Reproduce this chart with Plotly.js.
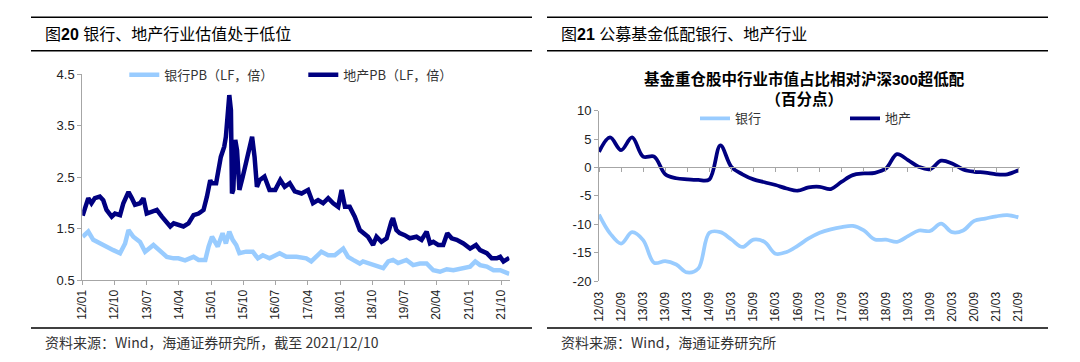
<!DOCTYPE html>
<html>
<head>
<meta charset="utf-8">
<script src="https://cdn.plot.ly/plotly-3.0.1.min.js"></script>
<style>
  html, body { margin: 0; padding: 0; background: #ffffff; }
  #chart { width: 1080px; height: 362px; }
</style>
</head>
<body>
<div id="chart"></div>
<script>
// ---------- Left chart: PB (LF) ----------
const bankDates = [
  "2012-01-04","2012-02-21","2012-04-03","2012-05-29","2012-07-25","2012-09-21","2012-11-17","2012-12-30",
  "2013-01-28","2013-03-10","2013-05-06","2013-06-18","2013-08-28","2013-10-24","2013-12-20",
  "2014-02-16","2014-03-28","2014-05-24","2014-08-04","2014-09-16","2014-11-12","2014-12-10",
  "2015-01-08","2015-02-26","2015-04-08","2015-05-06","2015-06-04","2015-07-03","2015-08-02","2015-08-29",
  "2015-10-25","2015-12-21","2016-02-02","2016-03-15","2016-05-11","2016-08-05","2016-10-01","2016-12-26",
  "2017-03-20","2017-05-01","2017-06-13","2017-07-26","2017-09-22","2017-11-17","2018-01-28","2018-03-10",
  "2018-04-22","2018-06-18","2018-07-15","2018-09-11","2018-11-07","2019-01-03","2019-02-15","2019-03-27",
  "2019-05-09","2019-07-19","2019-09-15","2019-11-11","2020-01-07","2020-03-04","2020-04-30","2020-06-26",
  "2020-08-22","2020-11-02","2021-01-11","2021-02-24","2021-04-06","2021-06-02","2021-07-29","2021-09-24",
  "2021-12-04","2021-12-10"
];
const bankPB = [
  1.34,1.44,1.28,1.21,1.15,1.08,1.02,1.21,
  1.47,1.34,1.24,1.05,1.18,1.05,0.95,
  0.92,0.92,0.88,0.95,0.89,0.89,1.15,
  1.34,1.15,1.41,1.21,1.44,1.28,1.18,1.02,
  1.05,1.05,0.92,0.98,0.92,1.02,0.95,0.95,
  0.92,0.86,0.95,1.05,0.98,0.98,1.11,0.95,
  0.89,0.82,0.86,0.82,0.79,0.73,0.86,0.89,
  0.83,0.89,0.79,0.82,0.82,0.69,0.66,0.71,
  0.69,0.73,0.76,0.86,0.79,0.76,0.69,0.69,
  0.63,0.62
];
const propDates = [
  "2012-01-04","2012-02-21","2012-03-19","2012-04-17","2012-05-29","2012-06-27","2012-07-25","2012-09-07",
  "2012-10-05","2012-11-17","2012-12-15","2013-01-28","2013-02-25","2013-03-24","2013-05-06","2013-06-04",
  "2013-07-02","2013-08-14","2013-09-26","2013-11-08","2013-12-20","2014-01-18","2014-02-16","2014-03-28",
  "2014-05-10","2014-06-22","2014-08-04","2014-09-16","2014-10-28","2014-11-26","2014-12-24","2015-01-05",
  "2015-02-12","2015-03-24","2015-04-22","2015-05-06","2015-05-20","2015-06-04","2015-06-18","2015-06-27",
  "2015-07-08","2015-07-25","2015-08-09","2015-08-29","2015-09-27","2015-11-09","2015-12-15","2016-01-05",
  "2016-01-25","2016-02-17","2016-03-29","2016-05-11","2016-06-29","2016-08-11","2016-09-17","2016-10-30",
  "2016-12-12","2017-02-08","2017-04-04","2017-05-16","2017-06-28","2017-08-10","2017-09-22","2017-11-04",
  "2017-12-16","2018-01-14","2018-02-12","2018-03-24","2018-05-06","2018-06-18","2018-07-15","2018-08-27",
  "2018-10-09","2018-11-07","2018-12-19","2019-02-01","2019-03-13","2019-03-27","2019-04-25","2019-05-23",
  "2019-07-05","2019-08-17","2019-10-13","2019-11-25","2020-01-07","2020-02-05","2020-03-04","2020-04-15",
  "2020-05-27","2020-07-01","2020-08-07","2020-09-19","2020-11-15","2021-01-11","2021-03-02","2021-04-06",
  "2021-06-02","2021-07-14","2021-08-26","2021-09-24","2021-10-22","2021-12-04","2021-12-10"
];
const propPB = [
  1.75,2.09,1.99,2.09,2.12,2.05,1.86,1.73,
  1.79,1.76,1.99,2.21,2.09,1.96,1.99,2.09,
  1.79,1.83,1.86,1.73,1.60,1.54,1.60,1.57,
  1.54,1.60,1.76,1.79,1.86,2.12,2.44,2.38,
  2.38,2.89,3.09,3.28,3.80,4.09,3.80,2.18,
  2.25,3.22,3.02,2.25,2.51,2.89,3.28,2.89,
  2.31,2.44,2.51,2.25,2.25,2.44,2.31,2.38,
  2.22,2.18,2.25,1.99,2.05,1.99,2.09,1.99,
  1.92,2.25,1.92,1.92,1.73,1.47,1.41,1.34,
  1.18,1.34,1.24,1.31,1.63,1.70,1.47,1.41,
  1.37,1.31,1.34,1.28,1.44,1.21,1.24,1.18,
  1.18,1.41,1.31,1.28,1.21,1.11,1.18,1.08,
  1.02,0.92,0.92,0.95,0.86,0.92,0.93
];
const leftYTicks = [0.5, 1.5, 2.5, 3.5, 4.5];

// ---------- Right chart: fund over/under-weight vs CSI 300 (pp) ----------
const quarters = [
  "12/03","12/06","12/09","12/12","13/03","13/06","13/09","13/12","14/03","14/06","14/09","14/12",
  "15/03","15/06","15/09","15/12","16/03","16/06","16/09","16/12","17/03","17/06","17/09","17/12",
  "18/03","18/06","18/09","18/12","19/03","19/06","19/09","19/12","20/03","20/06","20/09","20/12",
  "21/03","21/06","21/09"
];
const bankUnder = [
  -8.3,-11.6,-13.4,-11.4,-12.8,-16.8,-16.5,-17.1,-18.5,-17.8,-11.5,-11.4,
  -12.7,-14.0,-12.7,-13.1,-15.2,-14.9,-13.8,-12.5,-11.5,-10.9,-10.5,-10.3,
  -11.1,-12.7,-12.7,-13.1,-12.1,-11.1,-11.2,-9.9,-11.4,-11.1,-9.4,-9.0,
  -8.6,-8.4,-8.8
];
const propUnder = [
  2.76,5.3,3.06,5.3,1.9,1.9,-1.2,-1.9,-2.1,-2.2,-2.1,3.9,
  0.1,-1.2,-2.1,-2.6,-3.1,-3.7,-4.1,-3.5,-3.4,-3.8,-2.5,-1.35,
  -1.06,-0.94,-0.2,2.35,1.3,0.1,-0.3,1.2,0.7,-0.35,-0.76,-0.9,
  -1.2,-1.2,-0.5
];
const rightYTicks = [10, 5, 0, -5, -10, -15, -20];
const rightYTickText = ["10", "5", "0", "-5", "-10", "-15", "-20"];

// ---------- styling ----------
const LIGHT = "#99ccff";
const DARK = "#000080";
const AXIS = "#a6a6a6";
const FONT = 'Arial, "Liberation Sans", "Noto Sans CJK SC", sans-serif';
const CJK = '"Noto Sans CJK SC", Arial, "Liberation Sans", sans-serif';
const W = 1080, H = 362;
const px = v => v / W;
const py = v => 1 - v / H;

const rightXTicks = quarters.filter((q, i) => i % 2 === 0);

const traces = [
  { x: bankDates, y: bankPB, type: "scatter", mode: "lines", name: "银行PB（LF，倍）",
    line: { color: LIGHT, width: 4.5 }, xaxis: "x", yaxis: "y", legend: "legend", hoverinfo: "skip" },
  { x: propDates, y: propPB, type: "scatter", mode: "lines", name: "地产PB（LF，倍）",
    line: { color: DARK, width: 4.5 }, xaxis: "x", yaxis: "y", legend: "legend", hoverinfo: "skip" },
  { x: quarters, y: bankUnder, type: "scatter", mode: "lines", name: "银行",
    line: { color: LIGHT, width: 3.75, shape: "spline", smoothing: 1 }, xaxis: "x2", yaxis: "y2", legend: "legend2", hoverinfo: "skip" },
  { x: quarters, y: propUnder, type: "scatter", mode: "lines", name: "地产",
    line: { color: DARK, width: 3.75, shape: "spline", smoothing: 1 }, xaxis: "x2", yaxis: "y2", legend: "legend2", hoverinfo: "skip" },
  { x: quarters, y: quarters.map(() => null), type: "scatter", mode: "lines", showlegend: false,
    xaxis: "x3", yaxis: "y2", hoverinfo: "skip" }
];

const lineShape = (x0, x1, y) => ({
  type: "line", xref: "paper", yref: "paper", x0: px(x0), x1: px(x1), y0: py(y), y1: py(y),
  line: { color: "#000", width: 1.5 }
});

const ann = (text, x, y, size, opts) => Object.assign({
  text: text, x: px(x), y: py(y), xref: "paper", yref: "paper", showarrow: false,
  xanchor: "left", yanchor: "middle", font: { family: FONT, size: size, color: "#000" }
}, opts || {});

const zeroFrac = (0 - (-20)) / 30;
const y2dom = [py(281), py(110.7)];

const layout = {
  width: W, height: H,
  margin: { l: 0, r: 0, t: 0, b: 0 },
  paper_bgcolor: "#ffffff", plot_bgcolor: "rgba(0,0,0,0)",
  font: { family: FONT, size: 12, color: "#222" },
  showlegend: true,
  xaxis: {
    domain: [px(82.3), px(509.5)], anchor: "y", type: "date",
    range: ["2012-01-01", "2021-12-12"],
    tick0: "2012-01-01", dtick: "M9", tickformat: "%y/%m", tickangle: -90,
    showline: true, linecolor: AXIS, linewidth: 1,
    ticks: "outside", ticklen: 4, tickcolor: AXIS, tickwidth: 1,
    showgrid: false, zeroline: false, tickfont: { size: 12, color: "#222" }
  },
  yaxis: {
    domain: [py(280), py(74)], anchor: "x", range: [0.5, 4.5],
    tickmode: "array", tickvals: leftYTicks, tickformat: ".1f",
    showline: true, linecolor: AXIS, linewidth: 1,
    ticks: "outside", ticklen: 4, tickcolor: AXIS,
    showgrid: false, zeroline: false, tickfont: { size: 13, color: "#222" }
  },
  xaxis2: {
    domain: [px(599), px(1020)], anchor: "y2", type: "category",
    range: [0, 38.15], tickmode: "array", tickvals: rightXTicks, tickangle: -90,
    showline: false, ticks: "outside", ticklen: 5, tickcolor: "rgba(0,0,0,0)",
    showgrid: false, zeroline: false, tickfont: { size: 12, color: "#222" }
  },
  xaxis3: {
    overlaying: "x2", anchor: "free", position: y2dom[0] + zeroFrac * (y2dom[1] - y2dom[0]),
    type: "category", range: [0, 38.15], tickmode: "array", tickvals: rightXTicks,
    showline: true, linecolor: AXIS, linewidth: 1,
    ticks: "outside", ticklen: 4, tickcolor: AXIS,
    showticklabels: false, showgrid: false, zeroline: false
  },
  yaxis2: {
    domain: y2dom, anchor: "x2", range: [-20, 10],
    tickmode: "array", tickvals: rightYTicks, ticktext: rightYTickText,
    showline: true, linecolor: AXIS, linewidth: 1,
    ticks: "outside", ticklen: 4, tickcolor: AXIS,
    showgrid: false, zeroline: false, tickfont: { size: 13, color: "#222" }
  },
  legend: {
    orientation: "h", x: px(124.3), y: py(74.7), xanchor: "left", yanchor: "middle",
    bgcolor: "rgba(0,0,0,0)", font: { family: CJK, size: 13, color: "#333" },
    entrywidth: 134, entrywidthmode: "pixels", traceorder: "normal"
  },
  legend2: {
    orientation: "h", x: px(695), y: py(118.3), xanchor: "left", yanchor: "middle",
    bgcolor: "rgba(0,0,0,0)", font: { family: CJK, size: 13, color: "#333" },
    entrywidth: 105, entrywidthmode: "pixels", traceorder: "normal"
  },
  shapes: [
    lineShape(31, 532, 17.3), lineShape(31, 532, 50.7), lineShape(31, 532, 328),
    lineShape(547, 1048, 17.3), lineShape(547, 1048, 50.7), lineShape(547, 1048, 328)
  ],
  annotations: [
    ann("图<b>20</b> 银行、地产行业估值处于低位", 43, 34.3, 16),
    ann("图<b>21</b> 公募基金低配银行、地产行业", 559, 34.3, 16),
    ann("资料来源：Wind，海通证券研究所，截至 2021/12/10", 43, 342, 14, { font: { family: CJK, size: 14, color: "#333" } }),
    ann("资料来源：Wind，海通证券研究所", 559, 342, 14, { font: { family: CJK, size: 14, color: "#333" } }),
    ann("<b>基金重仓股中行业市值占比相对沪深300超低配</b><br><b>（百分点）</b>", 804, 89, 15.5,
        { xanchor: "center", align: "center" })
  ]
};

Plotly.newPlot("chart", traces, layout, { staticPlot: true, displayModeBar: false });
</script>
</body>
</html>
